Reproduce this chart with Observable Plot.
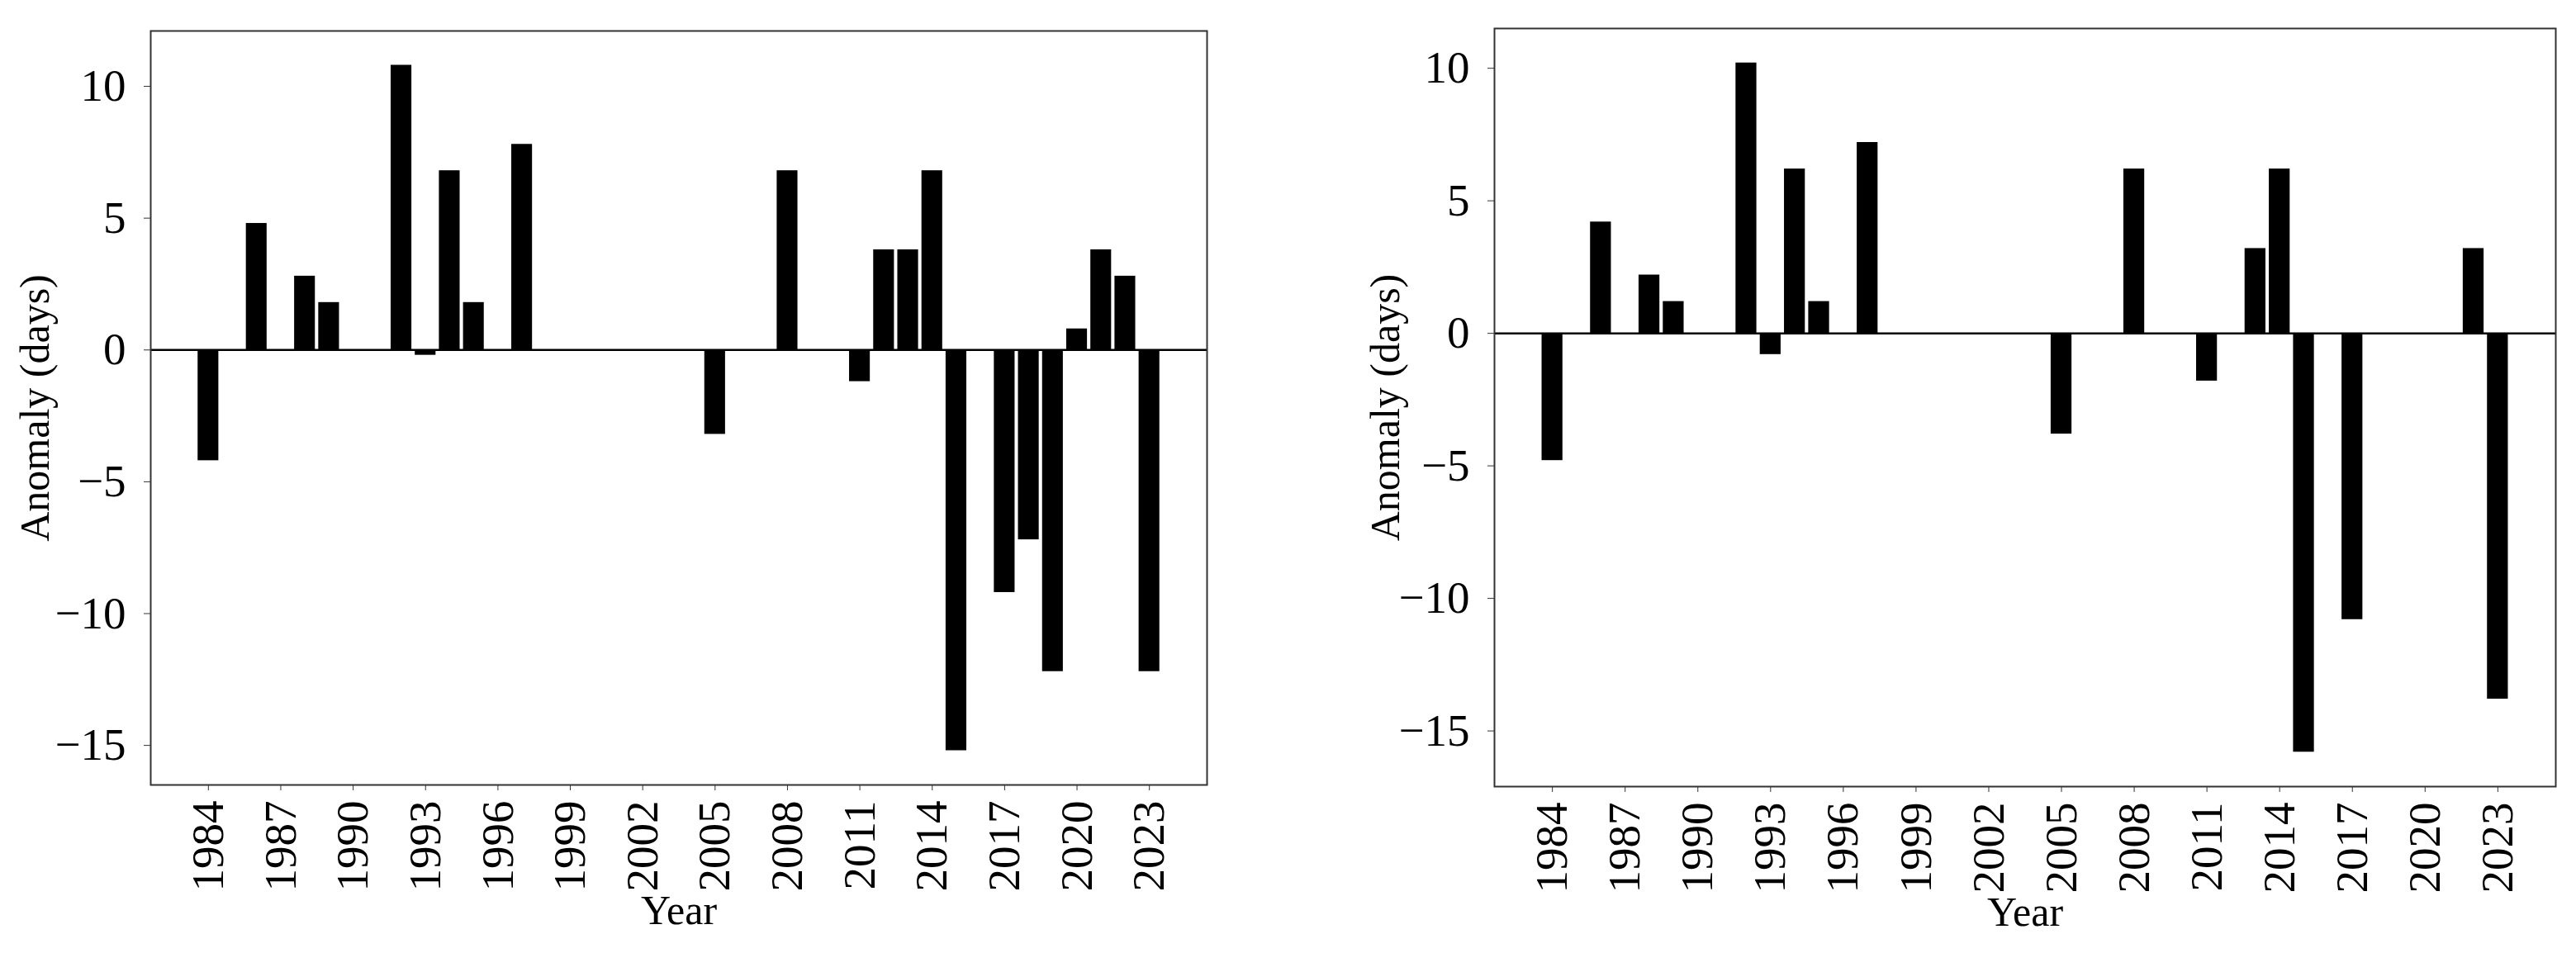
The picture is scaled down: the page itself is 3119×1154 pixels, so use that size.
<!DOCTYPE html>
<html>
<head>
<meta charset="utf-8">
<script src="https://cdn.jsdelivr.net/npm/d3@7"></script>
<script src="https://cdn.jsdelivr.net/npm/@observablehq/plot@0.6"></script>
<style>
  html, body { margin: 0; padding: 0; background: #fff; }
  #wrap { display: flex; width: 3119px; height: 1154px; overflow: hidden; }
  #wrap > div { flex: none; }
</style>
</head>
<body>
<div id="wrap"><div id="left"></div><div id="right"></div></div>
<script>
// ---- data ----
const years = [1984,1985,1986,1987,1988,1989,1990,1991,1992,1993,1994,1995,1996,1997,1998,1999,2000,2001,2002,2003,
               2004,2005,2006,2007,2008,2009,2010,2011,2012,2013,2014,2015,2016,2017,2018,2019,2020,2021,2022,2023];
const leftValues = [-4.2,0,4.8,0,2.8,1.8,0,0,10.8,-0.2,6.8,1.8,0,7.8,0,0,0,0,0,0,
                    0,-3.2,0,0,6.8,0,0,-1.2,3.8,3.8,6.8,-15.2,0,-9.2,-7.2,-12.2,0.8,3.8,2.8,-12.2];
const rightValues = [-4.8,0,4.2,0,2.2,1.2,0,0,10.2,-0.8,6.2,1.2,0,7.2,0,0,0,0,0,0,
                     0,-3.8,0,0,6.2,0,0,-1.8,0,3.2,6.2,-15.8,0,-10.8,0,0,0,0,3.2,-13.8];
const xTicks = [1984,1987,1990,1993,1996,1999,2002,2005,2008,2011,2014,2017,2020,2023];
const yTicks = [-15,-10,-5,0,5,10];
const xLabel = "Year";
const yLabel = "Anomaly (days)";

const FONT = "'Liberation Serif', 'Times New Roman', Times, serif";

function panel(values, opts) {
  const data = years.map((y, i) => ({year: y, value: values[i]})).filter(d => d.value !== 0);
  return Plot.plot({
    width: opts.width,
    height: 1154,
    marginLeft: opts.ml,
    marginRight: opts.mr,
    marginTop: opts.mt,
    marginBottom: opts.mb,
    style: {fontFamily: FONT, fontSize: "55px", background: "white", color: "black"},
    x: {domain: [1981.61, 2025.39]},
    y: {domain: opts.ydomain},
    marks: [
      Plot.rectY(data, {x1: d => d.year - 0.43, x2: d => d.year + 0.43, y1: 0, y2: "value", fill: "black"}),
      Plot.ruleY([0], {stroke: "black", strokeWidth: 2.5}),
      Plot.frame({stroke: "#333", strokeWidth: 2}),
      Plot.axisX({ticks: xTicks, tickFormat: d => String(d), tickRotate: -90, tickSize: 7, tickPadding: 12,
                  stroke: "#333", fill: "black", label: null, fontSize: 55}),
      Plot.axisY({ticks: yTicks, tickSize: 8, tickPadding: 22, stroke: "#333", fill: "black", label: null, fontSize: 55}),
      Plot.text([yLabel], {frameAnchor: "left", dx: opts.ylabDx, rotate: -90, lineAnchor: "bottom",
                           textAnchor: "middle", fontSize: 50, fill: "black", text: d => d}),
      Plot.text([xLabel], {frameAnchor: "bottom", dy: 168, lineAnchor: "bottom",
                           textAnchor: "middle", fontSize: 50, fill: "black", text: d => d})
    ]
  });
}

document.getElementById("left").appendChild(panel(leftValues,
  {width: 1560, ml: 182, mr: 99, mt: 37, mb: 204, ydomain: [-16.5, 12.1], ylabDx: -124}));
document.getElementById("right").appendChild(panel(rightValues,
  {width: 1559, ml: 249, mr: 25, mt: 34, mb: 202, ydomain: [-17.1, 11.5], ylabDx: -116}));
</script>
</body>
</html>
